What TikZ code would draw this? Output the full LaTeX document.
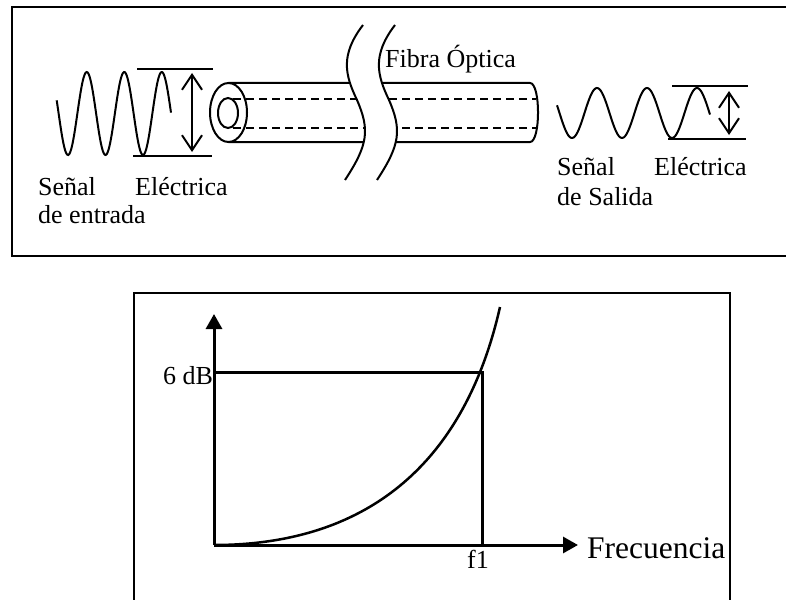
\documentclass[tikz,border=0pt]{standalone}
\usepackage{fontspec}
\setmainfont{Liberation Serif}
\usetikzlibrary{arrows.meta}
\begin{document}
\begin{tikzpicture}[x=1pt,y=-1pt,
  lbl/.style={inner sep=0pt,anchor=base west,font=\fontsize{26}{30}\selectfont},
  biglbl/.style={inner sep=0pt,anchor=base west,font=\fontsize{31.5}{36}\selectfont},
  boxline/.style={line width=2pt},
  sigwave/.style={line width=2pt},
  dimline/.style={line width=2pt},
  dimarrow/.style={line width=2pt,{Straight Barb[length=15pt,width=20pt]}-{Straight Barb[length=15pt,width=20pt]}},
  fibline/.style={line width=2pt},
  fibdash/.style={line width=1.6pt,dash pattern=on 8pt off 5pt},
  axisline/.style={line width=3pt,-{Triangle[length=15pt,width=16pt]}},
  graphline/.style={line width=3pt},
  curveline/.style={line width=2.5pt}]
\useasboundingbox (0,0) rectangle (786,599);
\clip (0,0) rectangle (786,599);
\fill[white] (0,0) rectangle (786,599);

% ---- frames ----
\draw[boxline] (12,7) rectangle (810,256);
\draw[boxline] (134,293) rectangle (730,620);

% ---- input signal ----
\draw[sigwave] plot[domain=56.7:171,samples=120] ({\x},{113.5+41.5*cos(9.6*(\x-68))});
\coordinate (itop1) at (137,69);  \coordinate (itop2) at (213,69);
\coordinate (ibot1) at (133,156); \coordinate (ibot2) at (212,156);
\coordinate (ia1) at (192,73);    \coordinate (ia2) at (192,152);
\draw[dimline] (itop1) -- (itop2);
\draw[dimline] (ibot1) -- (ibot2);
\draw[dimarrow] (ia1) -- (ia2);

% ---- fibre ----
\coordinate (ftl) at (228.5,83);  \coordinate (ftr) at (530,83);
\coordinate (fbl) at (228.5,142); \coordinate (fbr) at (530,142);
\coordinate (dtl) at (233,99);  \coordinate (dtr) at (536,99);
\coordinate (dbl) at (233,128); \coordinate (dbr) at (536,128);
\draw[fibline] (ftl) -- (ftr) .. controls (540.7,83) and (540.7,142) .. (fbr) -- (fbl);
\draw[fibdash] (dtl) -- (dtr);
\draw[fibdash] (dbl) -- (dbr);
\draw[fibline] (228.5,112.5) circle[x radius=18.5, y radius=29.5];
\draw[fibline] (228,113) circle[x radius=10, y radius=15];
% break
\fill[white] (363,25) .. controls (340,55) and (345,75) .. (357,100)
  .. controls (370,130) and (368,145) .. (345,180) -- (377,180)
  .. controls (400,145) and (402,130) .. (389,100)
  .. controls (377,75) and (372,55) .. (395,25) -- cycle;
\draw[fibline] (363,25) .. controls (340,55) and (345,75) .. (357,100)
  .. controls (370,130) and (368,145) .. (345,180);
\draw[fibline] (395,25) .. controls (372,55) and (377,75) .. (389,100)
  .. controls (402,130) and (400,145) .. (377,180);

% ---- output signal ----
\draw[sigwave] plot[domain=557:710,samples=120] ({\x},{113+25*cos(7.2*(\x-572))});
\coordinate (otop1) at (672,86);  \coordinate (otop2) at (748,86);
\coordinate (obot1) at (668,139); \coordinate (obot2) at (746,139);
\coordinate (oa1) at (729,91);    \coordinate (oa2) at (729,135);
\draw[dimline] (otop1) -- (otop2);
\draw[dimline] (obot1) -- (obot2);
\draw[dimarrow] (oa1) -- (oa2);

% ---- labels (top) ----
\node[lbl] (sen1) at (38,195) {Señal};
\node[lbl] (ele1) at (135,195) {Eléctrica};
\node[lbl] (ent) at (38,223) {de entrada};
\node[lbl] (fib) at (385,68) {Fibra Óptica};
\node[lbl] (sen2) at (557,175) {Señal};
\node[lbl] (ele2) at (654,175) {Eléctrica};
\node[lbl] (sal) at (557,205) {de Salida};

% ---- graph ----
\coordinate (O) at (214,545);
\coordinate (ytip) at (214,314);
\coordinate (xtip) at (578,545);
\coordinate (y6) at (214,372);
\coordinate (p6) at (482,372);
\coordinate (f1) at (482,545);
\coordinate (cend) at (500,307);
\draw[graphline] (y6) -- (p6) -- (f1);
\draw[axisline] (O) -- (ytip);
\draw[axisline] (O) -- (xtip);
\draw[curveline] (O) .. controls (364,545) and (463.7,467) .. (cend);
\node[lbl] (db) at (163,384) {6 dB};
\node[lbl] (f1l) at (467,568) {f1};
\node[biglbl] (fre) at (587,558) {Frecuencia};
\end{tikzpicture}
\end{document}
